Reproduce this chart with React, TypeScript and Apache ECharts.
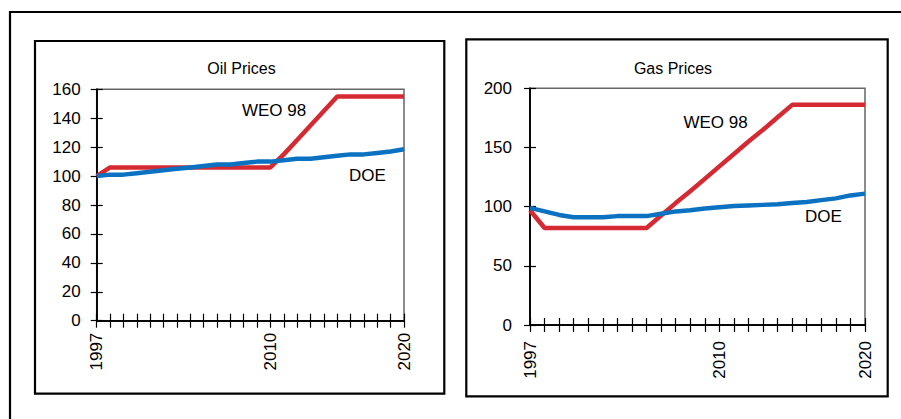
import React, { useEffect, useRef } from "react";
import * as echarts from "echarts";

const years = [1997, 1998, 1999, 2000, 2001, 2002, 2003, 2004, 2005, 2006, 2007, 2008, 2009, 2010, 2011, 2012, 2013, 2014, 2015, 2016, 2017, 2018, 2019, 2020];

const oilWeo = [100, 106, 106, 106, 106, 106, 106, 106, 106, 106, 106, 106, 106, 106, 115, 125, 135, 145, 155, 155, 155, 155, 155, 155];
const oilDoe = [100, 101, 101, 102, 103, 104, 105, 106, 107, 108, 108, 109, 110, 110, 111, 112, 112, 113, 114, 115, 115, 116, 117, 118.5];

const gasWeo = [97, 82, 82, 82, 82, 82, 82, 82, 82, 92.5, 103, 113, 123.5, 134, 144.5, 155, 165, 175.5, 186, 186, 186, 186, 186, 186];
const gasDoe = [99, 96, 93, 91, 91, 91, 92, 92, 92, 94, 96, 97, 98.5, 99.5, 100.5, 101, 101.5, 102, 103, 104, 105.5, 107, 109.5, 111];

const xLabelYears = [1997, 2010, 2020];
const titles = ["Oil Prices", "Gas Prices"];
const seriesNames = ["WEO 98", "DOE"];

const RED = "#d52a31";
const BLUE = "#0b72c2";
const FONT = "Liberation Sans";

function pairs(vals: number[]) {
  return years.map((y, i) => [y, vals[i]]);
}

export default function App() {
  const ref = useRef<HTMLDivElement>(null);
  useEffect(() => {
    document.body.style.margin = "0";
    const chart = echarts.init(ref.current!, null, { renderer: "svg" });
    const grids = [
      { left: 96.7, top: 89.3, width: 307.3, height: 231.4 },
      { left: 530, top: 88.3, width: 335, height: 236.7 },
    ];
    const xMargins = [12, 16];
    const yMargins = [16, 18];
    const yMax = [160, 200];
    const yInt = [20, 50];

    const xAxes: any[] = [];
    const yAxes: any[] = [];
    [0, 1].forEach((g) => {
      [false, true].forEach((inside) => {
        xAxes.push({
          type: "value",
          gridIndex: g,
          min: 1997,
          max: 2020,
          interval: 1,
          position: "bottom",
          axisLine: { show: true, onZero: false, lineStyle: { color: "#000", width: 1.5 } },
          axisTick: { show: true, inside, length: 7, lineStyle: { color: "#000", width: 1.2 } },
          splitLine: { show: false },
          axisLabel: inside
            ? { show: false }
            : {
                show: true,
                rotate: 90,
                margin: xMargins[g],
                fontFamily: FONT,
                fontSize: 17,
                color: "#000",
                showMinLabel: true,
                showMaxLabel: true,
                formatter: (v: number) => (xLabelYears.includes(v) ? String(v) : ""),
              },
        });
        yAxes.push({
          type: "value",
          gridIndex: g,
          min: 0,
          max: yMax[g],
          interval: yInt[g],
          position: "left",
          axisLine: { show: true, onZero: false, lineStyle: { color: "#000", width: 1.5 } },
          axisTick: { show: true, inside, length: 6, lineStyle: { color: "#000", width: 1.2 } },
          splitLine: { show: false },
          axisLabel: inside
            ? { show: false }
            : { show: true, margin: yMargins[g], fontFamily: FONT, fontSize: 17, color: "#000" },
        });
      });
    });

    const mk = (name: string, vals: number[], g: number, color: string) => ({
      name,
      type: "line",
      xAxisIndex: g * 2,
      yAxisIndex: g * 2,
      data: pairs(vals),
      symbol: "none",
      lineStyle: { color, width: 4.5 },
      itemStyle: { color },
      z: 3,
    });

    const txt = (text: string, x: number, y: number) => ({
      type: "text",
      x,
      y,
      style: { text, fontFamily: FONT, fontSize: 17, fill: "#000", textAlign: "center", textVerticalAlign: "middle" },
    });

    chart.setOption({
      animation: false,
      backgroundColor: "#fff",
      title: [
        { text: titles[0], left: 236.5, top: 55, textAlign: "center", textStyle: { fontFamily: FONT, fontSize: 16, fontWeight: "normal", color: "#000" } },
        { text: titles[1], left: 668, top: 55, textAlign: "center", textStyle: { fontFamily: FONT, fontSize: 16, fontWeight: "normal", color: "#000" } },
      ],
      grid: grids.map((gr) => ({ ...gr, show: true, borderColor: "#666", borderWidth: 1.5, backgroundColor: "transparent" })),
      xAxis: xAxes,
      yAxis: yAxes,
      series: [
        mk(seriesNames[0], oilWeo, 0, RED),
        mk(seriesNames[1], oilDoe, 0, BLUE),
        mk(seriesNames[0], gasWeo, 1, RED),
        mk(seriesNames[1], gasDoe, 1, BLUE),
      ],
      graphic: [
        { type: "rect", shape: { x: 10, y: 12, width: 900, height: 420 }, style: { fill: "none", stroke: "#000", lineWidth: 2.2 }, silent: true },
        { type: "rect", shape: { x: 35, y: 41, width: 409.3, height: 352.7 }, style: { fill: "none", stroke: "#000", lineWidth: 2.2 }, silent: true },
        { type: "rect", shape: { x: 466.3, y: 39.3, width: 421.4, height: 357 }, style: { fill: "none", stroke: "#000", lineWidth: 2.2 }, silent: true },
        txt(seriesNames[0], 274, 110),
        txt(seriesNames[1], 367.5, 175),
        txt(seriesNames[0], 715.5, 122),
        txt(seriesNames[1], 823.5, 216),
      ],
    });
    return () => chart.dispose();
  }, []);
  return <div ref={ref} style={{ position: "absolute", left: 0, top: 0, width: 901, height: 419 }} />;
}
